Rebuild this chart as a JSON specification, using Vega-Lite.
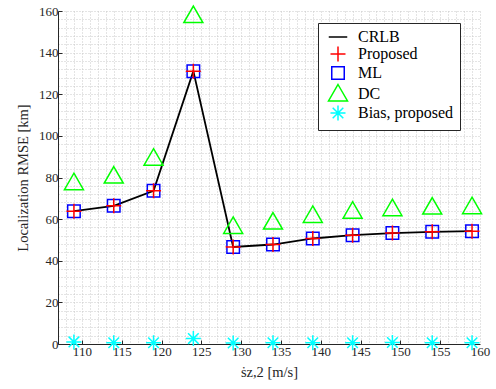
{
  "$schema": "https://vega.github.io/schema/vega-lite/v6.json",
  "width": 422,
  "height": 333,
  "autosize": {"type": "none"},
  "padding": {"left": 58, "top": 11, "right": 16, "bottom": 45},
  "background": "white",
  "config": {
    "font": "Liberation Serif",
    "view": {"stroke": null},
    "axis": {
      "labelFont": "Liberation Serif",
      "titleFont": "Liberation Serif",
      "labelFontSize": 13,
      "titleFontSize": 14.5,
      "titleFontWeight": "normal",
      "labelColor": "#262626",
      "titleColor": "#262626",
      "domainColor": "#262626",
      "tickColor": "#262626",
      "gridColor": "#c8c8c8",
      "gridDash": [1, 2],
      "gridWidth": 1,
      "labelOverlap": false,
      "labelFlush": false
    },
    "legend": {
      "labelFont": "Liberation Serif",
      "labelFontSize": 16,
      "labelColor": "#000000"
    }
  },
  "data": {
    "values": [
      {"speed": 109, "series": "CRLB", "rmse": 63.8},
      {"speed": 114, "series": "CRLB", "rmse": 66.4},
      {"speed": 119, "series": "CRLB", "rmse": 73.6},
      {"speed": 124, "series": "CRLB", "rmse": 131.1},
      {"speed": 129, "series": "CRLB", "rmse": 46.6},
      {"speed": 134, "series": "CRLB", "rmse": 47.8},
      {"speed": 139, "series": "CRLB", "rmse": 50.7},
      {"speed": 144, "series": "CRLB", "rmse": 52.3},
      {"speed": 149, "series": "CRLB", "rmse": 53.3},
      {"speed": 154, "series": "CRLB", "rmse": 53.9},
      {"speed": 159, "series": "CRLB", "rmse": 54.2},
      {"speed": 109, "series": "ML", "rmse": 63.8},
      {"speed": 114, "series": "ML", "rmse": 66.4},
      {"speed": 119, "series": "ML", "rmse": 73.6},
      {"speed": 124, "series": "ML", "rmse": 131.1},
      {"speed": 129, "series": "ML", "rmse": 46.6},
      {"speed": 134, "series": "ML", "rmse": 47.8},
      {"speed": 139, "series": "ML", "rmse": 50.7},
      {"speed": 144, "series": "ML", "rmse": 52.3},
      {"speed": 149, "series": "ML", "rmse": 53.3},
      {"speed": 154, "series": "ML", "rmse": 53.9},
      {"speed": 159, "series": "ML", "rmse": 54.2},
      {"speed": 109, "series": "Proposed", "rmse": 63.8},
      {"speed": 114, "series": "Proposed", "rmse": 66.4},
      {"speed": 119, "series": "Proposed", "rmse": 73.6},
      {"speed": 124, "series": "Proposed", "rmse": 131.1},
      {"speed": 129, "series": "Proposed", "rmse": 46.6},
      {"speed": 134, "series": "Proposed", "rmse": 47.8},
      {"speed": 139, "series": "Proposed", "rmse": 50.7},
      {"speed": 144, "series": "Proposed", "rmse": 52.3},
      {"speed": 149, "series": "Proposed", "rmse": 53.3},
      {"speed": 154, "series": "Proposed", "rmse": 53.9},
      {"speed": 159, "series": "Proposed", "rmse": 54.2},
      {"speed": 109, "series": "DC", "rmse": 77.5},
      {"speed": 114, "series": "DC", "rmse": 80.7},
      {"speed": 119, "series": "DC", "rmse": 89.3},
      {"speed": 124, "series": "DC", "rmse": 157.8},
      {"speed": 129, "series": "DC", "rmse": 56.5},
      {"speed": 134, "series": "DC", "rmse": 58.6},
      {"speed": 139, "series": "DC", "rmse": 61.8},
      {"speed": 144, "series": "DC", "rmse": 63.8},
      {"speed": 149, "series": "DC", "rmse": 65.0},
      {"speed": 154, "series": "DC", "rmse": 65.8},
      {"speed": 159, "series": "DC", "rmse": 66.0},
      {"speed": 109, "series": "Bias, proposed", "rmse": 1.0},
      {"speed": 114, "series": "Bias, proposed", "rmse": 0.6},
      {"speed": 119, "series": "Bias, proposed", "rmse": 0.6},
      {"speed": 124, "series": "Bias, proposed", "rmse": 2.6},
      {"speed": 129, "series": "Bias, proposed", "rmse": 0.5},
      {"speed": 134, "series": "Bias, proposed", "rmse": 0.6},
      {"speed": 139, "series": "Bias, proposed", "rmse": 0.6},
      {"speed": 144, "series": "Bias, proposed", "rmse": 0.6},
      {"speed": 149, "series": "Bias, proposed", "rmse": 0.7},
      {"speed": 154, "series": "Bias, proposed", "rmse": 0.6},
      {"speed": 159, "series": "Bias, proposed", "rmse": 0.6}
    ]
  },
  "encoding": {
    "x": {
      "field": "speed",
      "type": "quantitative",
      "scale": {"domain": [107, 160], "nice": false, "zero": false},
      "axis": {
        "title": "ṡz,2 [m/s]",
        "values": [107,108,109,110,111,112,113,114,115,116,117,118,119,120,121,122,123,124,125,126,127,128,129,130,131,132,133,134,135,136,137,138,139,140,141,142,143,144,145,146,147,148,149,150,151,152,153,154,155,156,157,158,159,160],
        "labelExpr": "datum.value % 5 === 0 ? datum.label : ''",
        "tickOpacity": {"condition": {"test": "datum.value % 5 === 0 && datum.value < 160", "value": 1}, "value": 0},
        "tickSize": -4,
        "labelPadding": 5,
        "titlePadding": 7,
        "grid": true
      }
    },
    "y": {
      "field": "rmse",
      "type": "quantitative",
      "scale": {"domain": [0, 160], "nice": false},
      "axis": {
        "title": "Localization RMSE [km]",
        "values": [0,4,8,12,16,20,24,28,32,36,40,44,48,52,56,60,64,68,72,76,80,84,88,92,96,100,104,108,112,116,120,124,128,132,136,140,144,148,152,156,160],
        "labelExpr": "datum.value % 20 === 0 ? datum.label : ''",
        "tickOpacity": {"condition": {"test": "datum.value % 20 === 0", "value": 1}, "value": 0},
        "tickSize": -4,
        "labelPadding": 4,
        "titlePadding": 8,
        "grid": true
      }
    },
    "color": {
      "field": "series",
      "type": "nominal",
      "scale": {
        "domain": ["CRLB", "Proposed", "ML", "DC", "Bias, proposed"],
        "range": ["#000000", "#ff0000", "#0000ff", "#00ff00", "#00ffff"]
      },
      "legend": {
        "title": null,
        "orient": "none",
        "legendX": 260,
        "legendY": 12,
        "padding": 6,
        "fillColor": "white",
        "strokeColor": "#262626",
        "symbolSize": 100,
        "symbolStrokeWidth": 1.5,
        "symbolOffset": 6,
        "labelOffset": 12,
        "rowPadding": -2
      }
    }
  },
  "layer": [
    {
      "transform": [{"filter": "datum.series === 'CRLB'"}],
      "mark": {"type": "line", "strokeWidth": 1.8}
    },
    {
      "transform": [{"filter": "datum.series !== 'CRLB'"}],
      "mark": {"type": "point", "filled": false, "size": 100, "strokeWidth": 1.5, "opacity": 1},
      "encoding": {
        "shape": {
          "field": "series",
          "type": "nominal",
          "scale": {
            "domain": ["CRLB", "Proposed", "ML", "DC", "Bias, proposed"],
            "range": [
              "M-1.85,0L1.85,0",
              "M-1.5,0L1.5,0M0,-1.5L0,1.5",
              "M-1.25,-1.25L1.25,-1.25L1.25,1.25L-1.25,1.25Z",
              "M0,-1.9L1.9,1.4L-1.9,1.4Z",
              "M-1.5,0L1.5,0M0,-1.5L0,1.5M-1.06,-1.06L1.06,1.06M-1.06,1.06L1.06,-1.06"
            ]
          },
          "legend": {
            "title": null,
            "orient": "none",
            "legendX": 260,
            "legendY": 12,
            "padding": 6,
            "fillColor": "white",
            "strokeColor": "#262626",
            "symbolSize": 100,
            "symbolStrokeWidth": 1.5,
            "symbolOffset": 6,
            "labelOffset": 12,
            "rowPadding": -2
          }
        }
      }
    }
  ]
}
